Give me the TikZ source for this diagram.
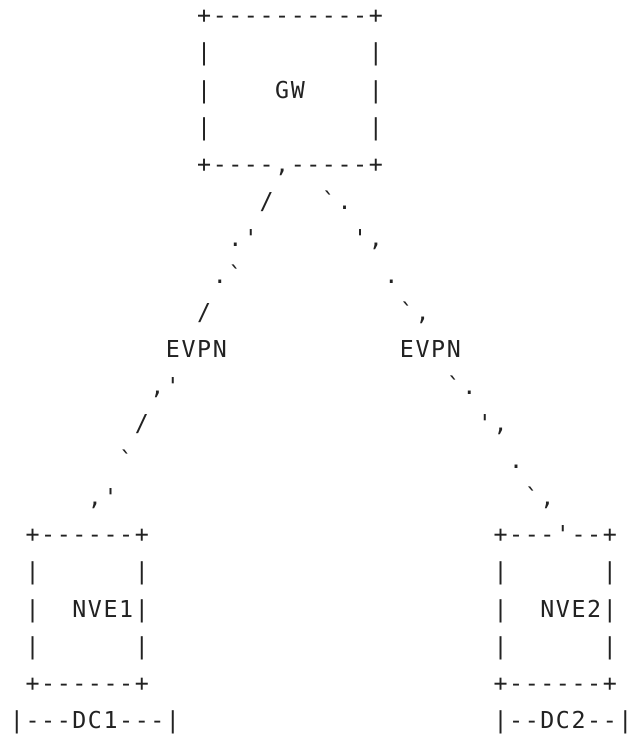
\documentclass[tikz,border=0pt]{standalone}
\usepackage{fontspec}
\setmonofont{DejaVu Sans Mono}
\definecolor{ink}{RGB}{34,34,34}
\tikzset{
  glyph/.style={inner sep=0pt, outer sep=0pt, anchor=base, text=ink,
    font=\ttfamily\fontsize{23.3pt}{23.3pt}\selectfont}
}
% One character cell per glyph: column pitch 15.6pt, line pitch 37.07pt.
\makeatletter
\newcount\asciicol
\newcommand\asciirow[3]{% #1 = line, #2 = first column, #3 = characters
  \asciicol=#2\relax
  \@tfor\asciich:=#3\do{%
    \edef\asciinode{\noexpand\node[glyph] (r#1c\the\asciicol)
      at ({17pt+\the\asciicol*15.6pt},{-23.9pt-#1*37.07pt})}%
    \asciinode {\asciich};%
    \global\advance\asciicol by 1\relax}}
\makeatother
\begin{document}
\begin{tikzpicture}
  \fill[white] (0pt,0pt) rectangle (630pt,-734pt);
  \useasboundingbox (0pt,0pt) rectangle (630pt,-734pt);
  % gateway box
  \asciirow{0}{12}{+----------+}
  \asciirow{1}{12}{|}\asciirow{1}{23}{|}
  \asciirow{2}{12}{|}\asciirow{2}{17}{GW}\asciirow{2}{23}{|}
  \asciirow{3}{12}{|}\asciirow{3}{23}{|}
  \asciirow{4}{12}{+----,-----+}
  % EVPN links
  \asciirow{5}{16}{/}\asciirow{5}{20}{`.}
  \asciirow{6}{14}{.'}\asciirow{6}{22}{',}
  \asciirow{7}{13}{.`}\asciirow{7}{24}{.}
  \asciirow{8}{12}{/}\asciirow{8}{25}{`,}
  \asciirow{9}{10}{EVPN}\asciirow{9}{25}{EVPN}
  \asciirow{10}{9}{,'}\asciirow{10}{28}{`.}
  \asciirow{11}{8}{/}\asciirow{11}{30}{',}
  \asciirow{12}{7}{`}\asciirow{12}{32}{.}
  \asciirow{13}{5}{,'}\asciirow{13}{33}{`,}
  % NVE boxes
  \asciirow{14}{1}{+------+}\asciirow{14}{31}{+---'--+}
  \asciirow{15}{1}{|}\asciirow{15}{8}{|}\asciirow{15}{31}{|}\asciirow{15}{38}{|}
  \asciirow{16}{1}{|}\asciirow{16}{4}{NVE1|}\asciirow{16}{31}{|}\asciirow{16}{34}{NVE2|}
  \asciirow{17}{1}{|}\asciirow{17}{8}{|}\asciirow{17}{31}{|}\asciirow{17}{38}{|}
  \asciirow{18}{1}{+------+}\asciirow{18}{31}{+------+}
  % data centres
  \asciirow{19}{0}{|---DC1---|}\asciirow{19}{31}{|--DC2--|}
\end{tikzpicture}
\end{document}
